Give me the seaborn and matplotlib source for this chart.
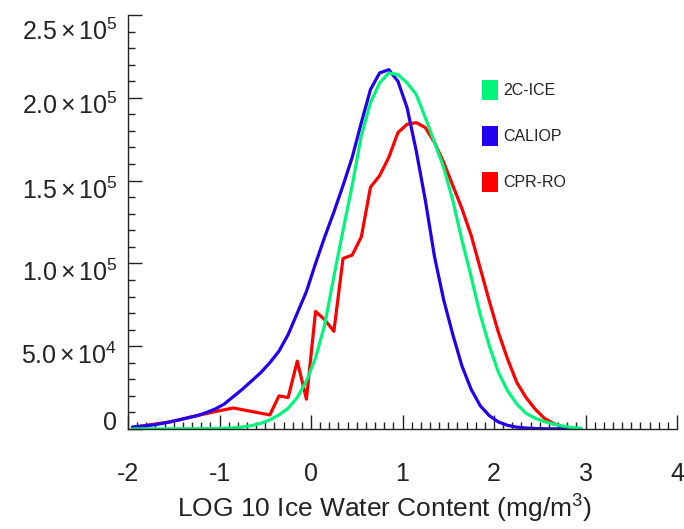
import numpy as np
import pandas as pd
import matplotlib
matplotlib.use("Agg")
import matplotlib.pyplot as plt
import matplotlib.transforms as mtransforms
import seaborn as sns
from matplotlib.patches import Patch
from matplotlib.ticker import MultipleLocator

# ---- data ----
x_grid = [-1.95, -1.85, -1.75, -1.65, -1.55, -1.45, -1.35, -1.25, -1.15, -1.05,
          -0.95, -0.85, -0.75, -0.65, -0.55, -0.45, -0.35, -0.25, -0.15, -0.05,
          0.05, 0.15, 0.25, 0.35, 0.45, 0.55, 0.65, 0.75, 0.85, 0.95,
          1.05, 1.15, 1.25, 1.35, 1.45, 1.55, 1.65, 1.75, 1.85, 1.95,
          2.05, 2.15, 2.25, 2.35, 2.45, 2.55, 2.65, 2.75, 2.85, 2.95]

caliop = [1200, 1700, 2300, 3100, 4200, 5400, 6700, 8000, 9800, 12000,
          15000, 19500, 24000, 29000, 34000, 40000, 47000, 57000, 70000, 83000,
          100000, 116000, 131000, 147000, 164000, 185000, 205000, 215000, 217000, 210000,
          194000, 168000, 138000, 104000, 78000, 57000, 38000, 24000, 14000, 8000,
          4200, 2200, 1100, 600, 300, 150, 80, 40, 20, 10]

ice2c = [50, 60, 70, 80, 90, 100, 130, 170, 220, 300,
         450, 700, 1200, 2000, 3400, 5500, 8500, 12500, 19000, 29000,
         43000, 63000, 92000, 120000, 147000, 177000, 197000, 209000, 215000, 214000,
         209000, 202000, 188000, 173000, 158000, 138000, 114000, 92000, 69000, 50000,
         34000, 23000, 15000, 9500, 6500, 4500, 3000, 1800, 900, 500]

cpr_x = [-1.95, -1.55, -1.25, -1.05, -0.85, -0.45, -0.35, -0.25, -0.15, -0.05,
         0.05, 0.15, 0.25, 0.35, 0.45, 0.55, 0.65, 0.75, 0.85, 0.95,
         1.05, 1.15, 1.25, 1.35, 1.45, 1.55, 1.65, 1.75, 1.85, 1.95,
         2.05, 2.15, 2.25, 2.35, 2.45, 2.55, 2.65, 2.75, 2.85, 2.95]
cpr_ro = [1000, 4200, 8000, 10500, 12700, 8500, 20000, 19000, 41000, 18000,
          71000, 66000, 59000, 103000, 105000, 116000, 146000, 153000, 164000, 179000,
          184000, 185000, 182000, 173000, 161000, 147000, 133000, 117000, 97000, 77000,
          58000, 42000, 28000, 19000, 12000, 6500, 3300, 1400, 500, 100]

series_names = ["2C-ICE", "CALIOP", "CPR-RO"]
colors = {"2C-ICE": "#00f57a", "CALIOP": "#2200ee", "CPR-RO": "#ff0000"}

x_ticks = [-2, -1, 0, 1, 2, 3, 4]
y_ticks = [0, 50000, 100000, 150000, 200000, 250000]
y_tick_labels = ["0",
                 r"$\mathregular{5.0\,{\times}\,10^{4}}$",
                 r"$\mathregular{1.0\,{\times}\,10^{5}}$",
                 r"$\mathregular{1.5\,{\times}\,10^{5}}$",
                 r"$\mathregular{2.0\,{\times}\,10^{5}}$",
                 r"$\mathregular{2.5\,{\times}\,10^{5}}$"]
# vertical nudge of each y label in pixels (positive = down), as in the reference
y_label_nudge = [-9, 7, 7, 8, 6, 14]

# ---- build frame ----
df = pd.concat([
    pd.DataFrame({"x": cpr_x, "y": cpr_ro, "s": "CPR-RO"}),
    pd.DataFrame({"x": x_grid, "y": caliop, "s": "CALIOP"}),
    pd.DataFrame({"x": x_grid, "y": ice2c, "s": "2C-ICE"}),
], ignore_index=True)

sns.set_style("ticks")
plt.rcParams["font.family"] = ["Liberation Sans", "DejaVu Sans"]
plt.rcParams["mathtext.fontset"] = "custom"
plt.rcParams["mathtext.rm"] = "Liberation Sans"
plt.rcParams["mathtext.it"] = "Liberation Sans:italic"
plt.rcParams["mathtext.bf"] = "Liberation Sans:bold"

DPI = 100
fig = plt.figure(figsize=(6.84, 5.29), dpi=DPI)
ax = fig.add_axes([128 / 684, 1 - 429 / 529, (677 - 128) / 684, (429 - 15) / 529])

for name in ["CPR-RO", "CALIOP", "2C-ICE"]:
    sub = df[df["s"] == name]
    sns.lineplot(data=sub, x="x", y="y", ax=ax, color=colors[name],
                 linewidth=2.3, estimator=None, sort=False, legend=False)

ax.set_xlim(-2, 4)
ax.set_ylim(0, 250000)
ax.set_xticks(x_ticks)
ax.set_xticklabels([str(t) for t in x_ticks])
ax.set_yticks(y_ticks)
ax.set_yticklabels([""] * len(y_ticks))
ax.xaxis.set_minor_locator(MultipleLocator(0.1))
ax.yaxis.set_minor_locator(MultipleLocator(10000))

txtc = "#222222"
for sp in ["top", "right"]:
    ax.spines[sp].set_visible(False)
for sp in ["left", "bottom"]:
    ax.spines[sp].set_linewidth(1.0)
    ax.spines[sp].set_color(txtc)

ax.tick_params(axis="both", which="major", direction="in", length=10, width=1.0,
               color=txtc, labelsize=18, labelcolor=txtc)
ax.tick_params(axis="both", which="minor", direction="in", length=5, width=1.0,
               color=txtc)
ax.tick_params(axis="x", which="major", pad=24)

# y tick labels as text next to the ticks
blend = mtransforms.blended_transform_factory(ax.transAxes, ax.transData)
for val, lab, dy in zip(y_ticks, y_tick_labels, y_label_nudge):
    off = mtransforms.ScaledTranslation(-11 / DPI, -dy / DPI, fig.dpi_scale_trans)
    ax.text(0, val, lab, transform=blend + off, ha="right", va="center_baseline",
            fontsize=18, color=txtc, clip_on=False)

ax.set_xlabel(r"LOG 10 Ice Water Content (mg/m$\mathregular{^3}$)", fontsize=19,
              color=txtc, labelpad=8)
ax.xaxis.set_label_coords((384 - 128) / (677 - 128), -0.155)
ax.set_ylabel("")

handles = [Patch(facecolor=colors[n], edgecolor="none", label=n) for n in series_names]
leg = ax.legend(handles=handles, loc="upper left",
                bbox_to_anchor=(482 / 684, 1 - 80 / 529), bbox_transform=fig.transFigure,
                frameon=False, fontsize=11.5, handlelength=1.0, handleheight=1.55,
                handletextpad=0.35, labelspacing=1.62, borderaxespad=0, borderpad=0)
for t in leg.get_texts():
    t.set_color(txtc)

fig.savefig("out.png", dpi=DPI)
